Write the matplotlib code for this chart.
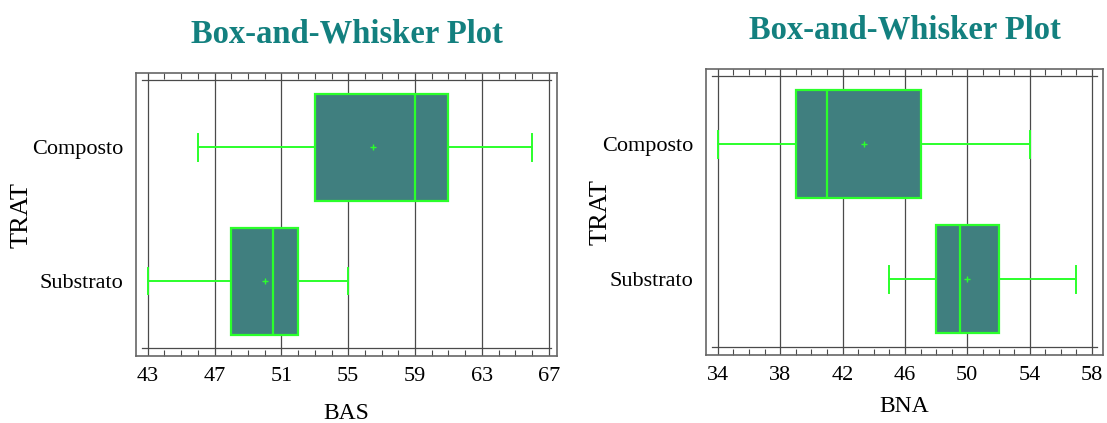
import matplotlib.pyplot as plt
from matplotlib.ticker import MultipleLocator

plt.rcParams['font.family'] = ['Liberation Serif', 'DejaVu Serif']

# ---- data ----
groups = ['Substrato', 'Composto']

bas_min = [43, 46]
bas_q1 = [48, 53]
bas_med = [50.5, 59]
bas_q3 = [52, 61]
bas_max = [55, 66]
bas_mean = [50, 56.5]
bas_ticks = [43, 47, 51, 55, 59, 63, 67]

bna_min = [45, 34]
bna_q1 = [48, 39]
bna_med = [49.5, 41]
bna_q3 = [52, 47]
bna_max = [57, 54]
bna_mean = [50, 43.4]
bna_ticks = [34, 38, 42, 46, 50, 54, 58]

TEAL_TITLE = '#13807f'
BOX_FILL = '#407f7f'
GREEN = '#2bff2b'
GRID = '#4a4a4a'


def draw_panel(ax, mins, q1s, meds, q3s, maxs, means, ticks, xlim, xlabel,
               ylab_x, xlab_pad):
    stats = []
    for i, g in enumerate(groups):
        stats.append(dict(label=g, whislo=mins[i], q1=q1s[i], med=meds[i],
                          q3=q3s[i], whishi=maxs[i], mean=means[i], fliers=[]))
    ax.bxp(stats, positions=[0, 1], widths=0.8, orientation='horizontal',
           patch_artist=True, showmeans=True, capwidths=0.2,
           boxprops=dict(facecolor=BOX_FILL, edgecolor=GREEN, linewidth=1.6),
           medianprops=dict(color=GREEN, linewidth=1.6),
           whiskerprops=dict(color=GREEN, linewidth=1.4),
           capprops=dict(color=GREEN, linewidth=1.4),
           meanprops=dict(marker='+', markeredgecolor=GREEN, markersize=4,
                          markeredgewidth=1),
           zorder=3)

    ax.set_xlim(*xlim)
    ax.set_ylim(-0.56, 1.555)

    # vertical grid at major ticks, spanning the full frame
    for t in ticks:
        ax.axvline(t, color=GRID, linewidth=0.9, zorder=1)
    # horizontal boundary lines at the category extremes
    ax.axhline(-0.5, xmin=0.015, xmax=0.985, color=GRID, linewidth=0.9, zorder=1)
    ax.axhline(1.5, xmin=0.015, xmax=0.985, color=GRID, linewidth=0.9, zorder=1)

    ax.set_xticks(ticks)
    ax.xaxis.set_minor_locator(MultipleLocator(1))
    ax.tick_params(axis='x', which='major', length=0, labelsize=16, pad=8,
                   top=True)
    ax.tick_params(axis='x', which='minor', direction='in', length=4,
                   width=0.8, color=GRID, top=True, bottom=True)
    ax.set_yticks([0, 1])
    ax.set_yticklabels(groups)
    ax.tick_params(axis='y', length=0, labelsize=16, pad=9)

    for s in ax.spines.values():
        s.set_color('#666666')
        s.set_linewidth(1.2)

    ax.set_xlabel(xlabel, fontsize=17, labelpad=xlab_pad)
    ax.set_ylabel('TRAT', fontsize=19)
    ax.yaxis.set_label_coords(ylab_x, 0.5)
    ax.set_title('Box-and-Whisker Plot', fontsize=23.5, fontweight='bold',
                 color=TEAL_TITLE, pad=22)


fig = plt.figure(figsize=(11.07, 4.23), dpi=100)
ax1 = fig.add_axes([0.1229, 0.1584, 0.3803, 0.669])
ax2 = fig.add_axes([0.6378, 0.1608, 0.3586, 0.676])

draw_panel(ax1, bas_min, bas_q1, bas_med, bas_q3, bas_max, bas_mean,
           bas_ticks, (42.3, 67.5), 'BAS', -0.247, 12)
draw_panel(ax2, bna_min, bna_q1, bna_med, bna_q3, bna_max, bna_mean,
           bna_ticks, (33.25, 58.7), 'BNA', -0.237, 8)

fig.savefig('out.png', dpi=100, facecolor='white')
